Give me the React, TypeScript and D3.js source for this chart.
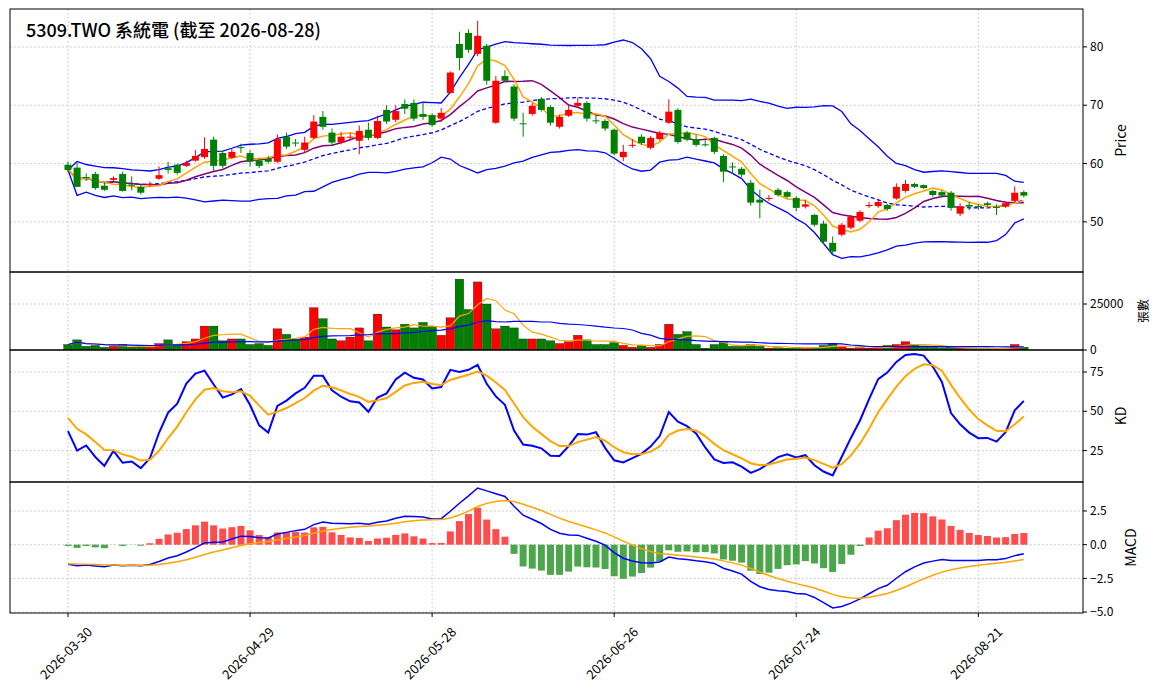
import * as d3 from 'd3'

const opens = [59.8,59.3,57.7,58.2,56.2,57.2,58.2,56.4,56,56.3,57.4,59.2,59.8,59.6,60.5,61.1,64.1,61.8,61,62.8,61.8,60.5,60.8,60.3,64.6,63.6,62.35,64.4,68,65.3,63.6,64.5,63.9,65.8,64.4,69.2,67.5,70.2,70.4,68.5,68.3,67.7,72.1,80.5,82.4,78.8,80.2,67,75,73.2,66.9,68.5,71.1,69.7,66.3,68.2,69.9,70.4,67.4,67.3,65.8,61.1,63.1,64.6,62.7,64.2,67,69.2,65.3,64.2,63.3,64.4,61.3,59.5,59.1,56.7,53.8,54,55.5,55.1,54.1,52.6,51.2,49.7,46.4,47.8,49,50.2,52.7,52.7,52.9,54,55.3,56.5,56.3,55.3,55.1,55,51.4,52.9,52.7,53.2,52.6,52.6,53.6,55.1]
const closes = [58.9,56,57.5,55.8,55.5,57.5,55.3,56.2,55,56.5,58,58.9,58.4,60.1,61.3,62.5,59.6,59.6,62,62.7,60.3,59.6,60.3,64.2,62.9,63.5,63.6,67.2,66.3,63.6,64.6,64.6,65.6,64.4,67.3,67.2,69,69.4,67.7,68,66.6,68.7,75.6,78.1,79.5,81.9,74.2,74.2,74.2,67.7,66.8,69.9,69.2,67,68,69.2,70.4,67.7,67.3,66,61.7,62,63.2,63.5,64.4,65.3,68.9,63.7,64.1,63.2,63.2,62,58.6,59.4,58.1,53.3,53.3,54.1,54.6,54.3,52.4,53,49.5,46.6,44.9,49.5,50.9,51.7,52.9,53.4,52.2,56,56.5,56,55.8,54.6,54.5,52.4,52.7,52.6,52.6,52.9,52.4,53.2,55,54.5]
const highs = [60.3,60.2,58.3,58.6,56.8,57.8,58.6,57.8,56.5,56.9,59.5,60.3,60,60.5,62.3,64.5,64.6,62.2,62.5,63.4,62.3,61,61.3,65,65.3,64.2,64.6,68.3,69,66,65.4,65.2,66.5,67,68.2,70,70,71,71,70.5,68.6,69.5,75.8,82.6,83,84.5,80.5,75,76,73.6,68.7,70.4,71.4,70,68.4,70,71.3,70.7,68.3,67.6,66,63.2,64.2,65,64.7,65.6,71,69.5,65.6,65,64,64.6,61.6,60.2,59.4,57.2,55.5,54.6,55.8,55.4,54.4,53.8,51.3,50.2,47.5,49.8,51.2,52,53.4,53.8,53.1,56.6,57.2,56.7,56.4,55.5,55.4,55.3,53.2,53.4,53.1,53.5,53,53.5,56.1,55.4]
const lows = [58.5,56,57,55.5,55.3,57,55.2,55.4,54.7,56,57.2,58.3,58.1,59.4,60.3,60.8,58.7,59.2,60.8,61.8,59.5,59.2,60,60.1,62.5,62.9,61.9,64.2,65.8,63,63.3,64.1,61.6,64,64.2,66.8,67.1,68.5,67.3,67.5,66.3,67.1,72,76,79,78.4,73.5,66.8,73.9,67.3,64.6,68.2,68.9,66.5,66,68,69.6,67.2,66.8,65.6,61.4,60.4,62.7,63.2,62.4,63.9,66.8,63.4,63.8,62.9,62.9,61.6,56.8,58.3,57.7,52.8,50.6,53.6,54.3,54,51.8,52.3,49.2,46.2,44.4,47.5,48.7,49.9,52.4,52.4,51.9,53.8,55,55.8,55.6,54.3,54.2,51.9,51,52,52.1,52.6,51.2,52.4,53.4,54.2]
const volumes = [3000,5500,2000,2500,1500,2000,3000,1500,2000,1500,3500,5500,3000,4500,6000,13000,13000,5000,6000,6000,3000,3500,2500,11500,8500,6000,7000,23000,17000,6000,5000,7000,12000,5000,19500,12500,11000,14000,12000,15000,13000,8000,17500,38500,22000,37000,25000,11500,13000,12000,6000,6000,6000,5000,3500,4500,8000,5500,3000,3000,4000,2500,1500,2500,1500,3000,14000,8500,10000,3000,1000,3000,4000,2000,2000,3000,2000,1000,1200,1000,1500,1200,1200,2500,3500,2000,1000,1200,1000,1500,2500,3000,4500,3000,1500,1500,1200,1500,1000,800,800,800,800,800,3000,1500]
const holidays = ['2026-04-03', '2026-04-06', '2026-05-01', '2026-06-19']
const priceTicks = [50, 60, 70, 80]
const volTicks = [0, 25000]
const kdTicks = [25, 50, 75]
const macdTicks = [-5, -2.5, 0, 2.5]
const title = '5309.TWO 系統電 (截至 2026-08-28)'

const fmt = d3.timeFormat('%Y-%m-%d')
const dates: string[] = []
for (let d = new Date(2026, 2, 30); dates.length < closes.length; d = d3.timeDay.offset(d, 1)) {
  const s = fmt(d)
  if (d.getDay() !== 0 && d.getDay() !== 6 && !holidays.includes(s)) dates.push(s)
}

const sma = (a: number[], w: number) => a.map((_, i) => d3.mean(a.slice(Math.max(0, i - w + 1), i + 1))!)
const sd = (a: number[], w: number) => a.map((_, i) => { const s = a.slice(Math.max(0, i - w + 1), i + 1); return s.length > 1 ? Math.sqrt(d3.variance(s)! * (s.length - 1) / s.length) : 0 })
// EMA seeded with a starting value (the window before the chart is not shown)
const ema = (a: number[], w: number, seed: number) => { const k = 2 / (w + 1); const o: number[] = []; a.forEach((v, i) => o.push((i ? o[i - 1] : seed) + k * (v - (i ? o[i - 1] : seed)))); return o }
const ma5 = sma(closes, 5), ma10 = sma(closes, 10), ma20 = sma(closes, 20), s20 = sd(closes, 20)
const bbU = ma20.map((m, i) => m + 2 * s20[i]), bbL = ma20.map((m, i) => m - 2 * s20[i])
const vma5 = sma(volumes, 5), vma20 = sma(volumes, 20)
const kArr: number[] = [], dArr: number[] = []
closes.forEach((c, i) => {
  const hh = d3.max(highs.slice(Math.max(0, i - 8), i + 1))!, ll = d3.min(lows.slice(Math.max(0, i - 8), i + 1))!
  const rsv = hh === ll ? 50 : ((c - ll) / (hh - ll)) * 100
  const pk = i ? kArr[i - 1] : 45, pd = i ? dArr[i - 1] : 50
  kArr.push((2 / 3) * pk + rsv / 3)
  dArr.push((2 / 3) * pd + kArr[i] / 3)
})
const e12 = ema(closes, 12, 58.6), e26 = ema(closes, 26, 60.2)
const dif = e12.map((v, i) => v - e26[i])
const sig = ema(dif, 9, -1.4)
const hist = dif.map((v, i) => (v - sig[i]) * 2)

const L = 10, R = 1083
const x = d3.scaleLinear().domain([-6.37, 111.5]).range([L, R])
const bw = 7
const panels = {
  price: { y0: 9, y1: 272, s: d3.scaleLinear().domain([41.4, 86.5]).range([272, 9]) },
  vol: { y0: 272, y1: 350, s: d3.scaleLinear().domain([0, 42400]).range([350, 272]) },
  kd: { y0: 350, y1: 482, s: d3.scaleLinear().domain([5, 89]).range([482, 350]) },
  macd: { y0: 482, y1: 613, s: d3.scaleLinear().domain([-5.07, 4.65]).range([613, 482]) },
}
const xTicks = [0, 20, 40, 60, 80, 100]
const up = (i: number) => closes[i] >= opens[i]
const font = '"Noto Sans CJK TC", "DejaVu Sans", sans-serif'

function path(a: number[], s: d3.ScaleLinear<number, number>) {
  return d3.line<number>().x((_, i) => x(i)).y((v) => s(v))(a)!
}

function Panel({ p, ticks, label, fmtT, children }: any) {
  return (
    <g>
      {ticks.map((t: number) => (
        <g key={t}>
          <line x1={L} x2={R} y1={p.s(t)} y2={p.s(t)} stroke="#b0b0b0" strokeDasharray="1.5,2.5" strokeWidth={0.8} />
          <line x1={R} x2={R + 4} y1={p.s(t)} y2={p.s(t)} stroke="#000" />
          <text x={R + 7} y={p.s(t)} dy="0.35em" fontSize={12}>{fmtT ? fmtT(t) : t}</text>
        </g>
      ))}
      {xTicks.map((t) => (
        <line key={t} x1={x(t)} x2={x(t)} y1={p.y0} y2={p.y1} stroke="#b0b0b0" strokeDasharray="1.5,2.5" strokeWidth={0.8} />
      ))}
      <clipPath id={'c' + p.y0}><rect x={L} y={p.y0} width={R - L} height={p.y1 - p.y0} /></clipPath>
      <g clipPath={`url(#c${p.y0})`}>{children}</g>
      <rect x={L} y={p.y0} width={R - L} height={p.y1 - p.y0} fill="none" stroke="#000" />
      <text transform={`translate(${label.x},${(p.y0 + p.y1) / 2}) rotate(-90)`} textAnchor="middle" fontSize={label.size ?? 14}>{label.t}</text>
    </g>
  )
}

export default function App() {
  const P = panels
  return (
    <svg width={1164} height={698} style={{ fontFamily: font, display: 'block', position: 'absolute', left: 0, top: 0 }}>
      <rect width={1164} height={698} fill="#fff" />
      <Panel p={P.price} ticks={priceTicks} label={{ t: 'Price', x: 1126 }}>
        <path d={path(bbU, P.price.s)} fill="none" stroke="blue" strokeWidth={1.3} />
        <path d={path(bbL, P.price.s)} fill="none" stroke="blue" strokeWidth={1.3} />
        <path d={path(ma20, P.price.s)} fill="none" stroke="blue" strokeWidth={1.3} strokeDasharray="4,2.5" />
        <path d={path(ma10, P.price.s)} fill="none" stroke="purple" strokeWidth={1.5} />
        <path d={path(ma5, P.price.s)} fill="none" stroke="orange" strokeWidth={1.5} />
        {closes.map((c, i) => {
          const col = up(i) ? '#ff0000' : '#008000'
          const t = P.price.s(Math.max(c, opens[i])), b = P.price.s(Math.min(c, opens[i]))
          return (
            <g key={i}>
              <line x1={x(i)} x2={x(i)} y1={P.price.s(highs[i])} y2={P.price.s(lows[i])} stroke={col} />
              <rect x={x(i) - bw / 2} y={t} width={bw} height={Math.max(1, b - t)} fill={col} />
            </g>
          )
        })}
      </Panel>
      <Panel p={P.vol} ticks={volTicks} label={{ t: '張數', x: 1148, size: 12 }}>
        {volumes.map((v, i) => (
          <rect key={i} x={x(i) - 4.3} y={P.vol.s(v)} width={8.6} height={P.vol.s(0) - P.vol.s(v)} fill={up(i) ? '#ff0000' : '#008000'} stroke="#000" strokeWidth={0.3} />
        ))}
        <path d={path(vma5, P.vol.s)} fill="none" stroke="orange" strokeWidth={1.2} />
        <path d={path(vma20, P.vol.s)} fill="none" stroke="blue" strokeWidth={1.2} />
      </Panel>
      <Panel p={P.kd} ticks={kdTicks} label={{ t: 'KD', x: 1126 }}>
        <path d={path(kArr, P.kd.s)} fill="none" stroke="blue" strokeWidth={2} />
        <path d={path(dArr, P.kd.s)} fill="none" stroke="orange" strokeWidth={2} />
      </Panel>
      <Panel p={P.macd} ticks={macdTicks} label={{ t: 'MACD', x: 1136 }} fmtT={(t: number) => d3.format('.1f')(t).replace('-', '−')}>
        {hist.map((h, i) => (
          <rect key={i} x={x(i) - 3.5} y={P.macd.s(Math.max(0, h))} width={7} height={Math.abs(P.macd.s(h) - P.macd.s(0))} fill={h >= 0 ? 'rgba(255,0,0,0.7)' : 'rgba(0,128,0,0.7)'} />
        ))}
        <path d={path(dif, P.macd.s)} fill="none" stroke="blue" strokeWidth={1.5} />
        <path d={path(sig, P.macd.s)} fill="none" stroke="orange" strokeWidth={1.5} />
      </Panel>
      {xTicks.map((t) => (
        <g key={t} transform={`translate(${x(t)},613)`}>
          <line y2={4} stroke="#000" />
          <text transform="translate(25,20) rotate(-45)" textAnchor="end" fontSize={13}>{dates[t]}</text>
        </g>
      ))}
      <text x={26} y={37} fontSize={18} fontWeight={500}>{title}</text>
    </svg>
  )
}
